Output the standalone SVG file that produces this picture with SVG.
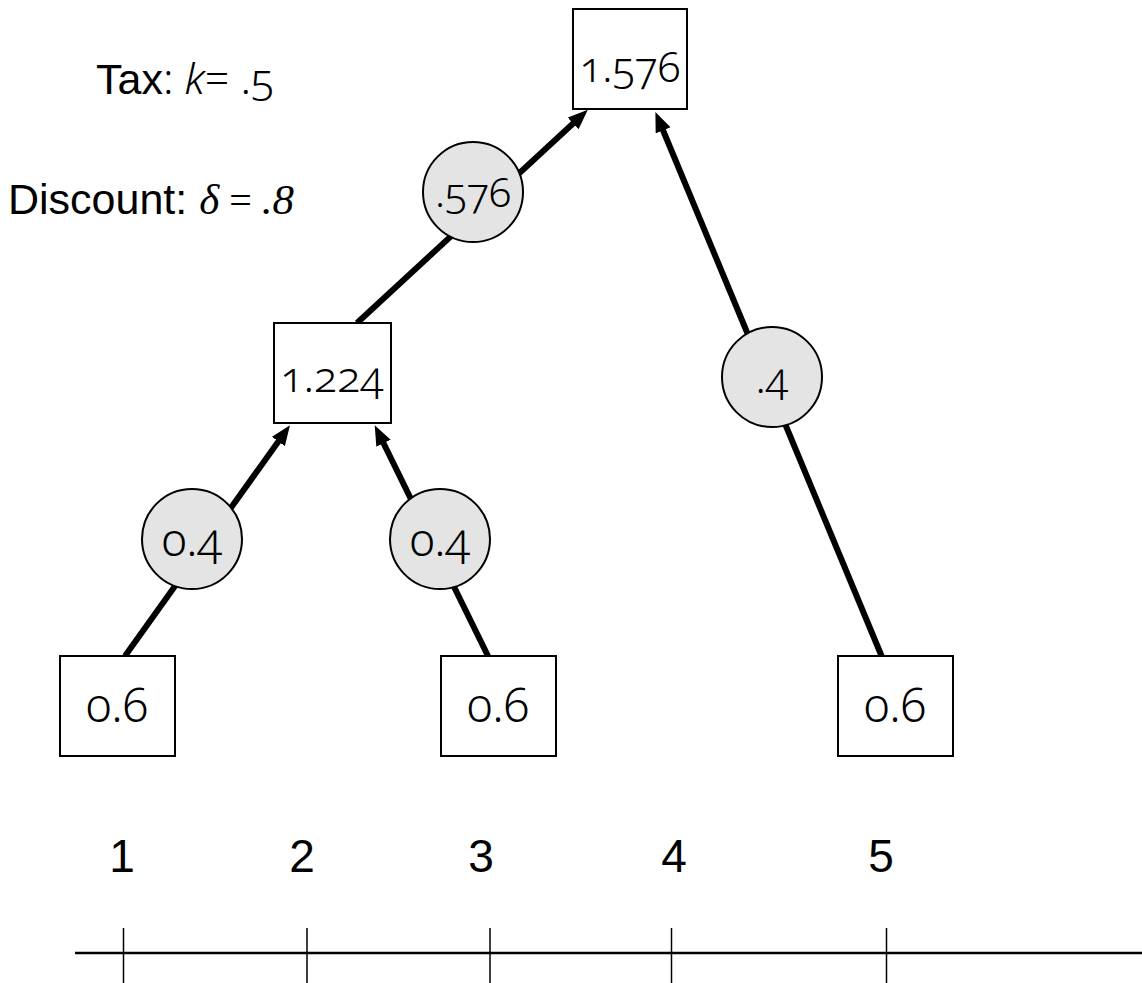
<svg xmlns="http://www.w3.org/2000/svg" width="1142" height="983" viewBox="0 0 1142 983">
<style>
.box{fill:#fff;stroke:#000;stroke-width:2}
.circ{fill:#e4e4e4;stroke:#000;stroke-width:2}
.edge{stroke:#000;stroke-width:6;fill:none}
.num{font-family:"Noto Sans","Open Sans",sans-serif;font-weight:300;font-size:40px;font-variant-numeric:oldstyle-nums;text-anchor:middle;fill:#000}
.lab{font-family:"Liberation Sans",Arial,sans-serif;fill:#000}
.axis{stroke:#000;stroke-width:2.5}
.tick{stroke:#000;stroke-width:1.5}
</style>
<defs>
<marker id="ah" viewBox="0 0 20 16" refX="8" refY="8" markerWidth="20" markerHeight="16" markerUnits="userSpaceOnUse" orient="auto">
<path d="M0,0 L20,8 L0,16 z" fill="#000"/>
</marker>
</defs>
<g id="connectors">
<line class="edge" x1="125" y1="656" x2="283" y2="435" marker-end="url(#ah)"/>
<line class="edge" x1="488" y1="656" x2="380" y2="436" marker-end="url(#ah)"/>
<line class="edge" x1="357" y1="323" x2="579" y2="118" marker-end="url(#ah)"/>
<line class="edge" x1="882" y1="657" x2="660" y2="123" marker-end="url(#ah)"/>
</g>
<g id="n-top"><rect class="box" x="573" y="9" width="114" height="100"/><text class="num" x="630" y="82" style="font-size:42px">1.576</text></g>
<g id="n-mid"><rect class="box" x="274" y="323" width="117" height="100"/><text class="num" x="332" y="392" style="font-size:43px">1.224</text></g>
<g id="n-b1"><rect class="box" x="60" y="656" width="115" height="100"/><text class="num" x="117" y="722" style="font-size:47px">0.6</text></g>
<g id="n-b2"><rect class="box" x="441" y="656" width="115" height="100"/><text class="num" x="498" y="722" style="font-size:47px">0.6</text></g>
<g id="n-b3"><rect class="box" x="838" y="656" width="115" height="100"/><text class="num" x="895" y="722" style="font-size:47px">0.6</text></g>
<g id="c-576"><circle class="circ" cx="473" cy="192" r="50"/><text class="num" x="473" y="207" style="font-size:41px">.576</text></g>
<g id="c-04a"><circle class="circ" cx="192" cy="539" r="50"/><text class="num" x="192" y="556" style="font-size:46px">0.4</text></g>
<g id="c-04b"><circle class="circ" cx="440" cy="539" r="50"/><text class="num" x="440" y="556" style="font-size:46px">0.4</text></g>
<g id="c-4"><circle class="circ" cx="772" cy="377" r="50"/><text class="num" x="772" y="393" style="font-size:42px">.4</text></g>
<g id="legend">
<text class="lab" x="96" y="94" font-size="43">Tax<tspan font-family="Noto Sans, sans-serif" font-weight="300">: </tspan><tspan font-family="Noto Sans, sans-serif" font-weight="300" font-style="italic">k</tspan><tspan font-family="Noto Sans, sans-serif" font-weight="300" style="font-variant-numeric:oldstyle-nums">= .5</tspan></text>
<text class="lab" x="8" y="214" font-size="43">Discount:  <tspan font-family="Liberation Serif, serif" font-style="italic">δ</tspan><tspan font-family="Liberation Serif, serif" font-size="40"> = </tspan><tspan font-family="Liberation Serif, serif" font-style="italic">.8</tspan></text>
</g>
<g id="timeline">
<line class="axis" x1="75" y1="953" x2="1142" y2="953"/>
<line class="tick" x1="123.5" y1="928" x2="123.5" y2="983"/>
<line class="tick" x1="307" y1="928" x2="307" y2="983"/>
<line class="tick" x1="490" y1="928" x2="490" y2="983"/>
<line class="tick" x1="671.5" y1="928" x2="671.5" y2="983"/>
<line class="tick" x1="886.5" y1="928" x2="886.5" y2="983"/>
<g class="lab" font-size="46" text-anchor="middle">
<text x="122" y="872">1</text>
<text x="302" y="872">2</text>
<text x="481" y="872">3</text>
<text x="674" y="872">4</text>
<text x="881" y="872">5</text>
</g>
</g>
</svg>
